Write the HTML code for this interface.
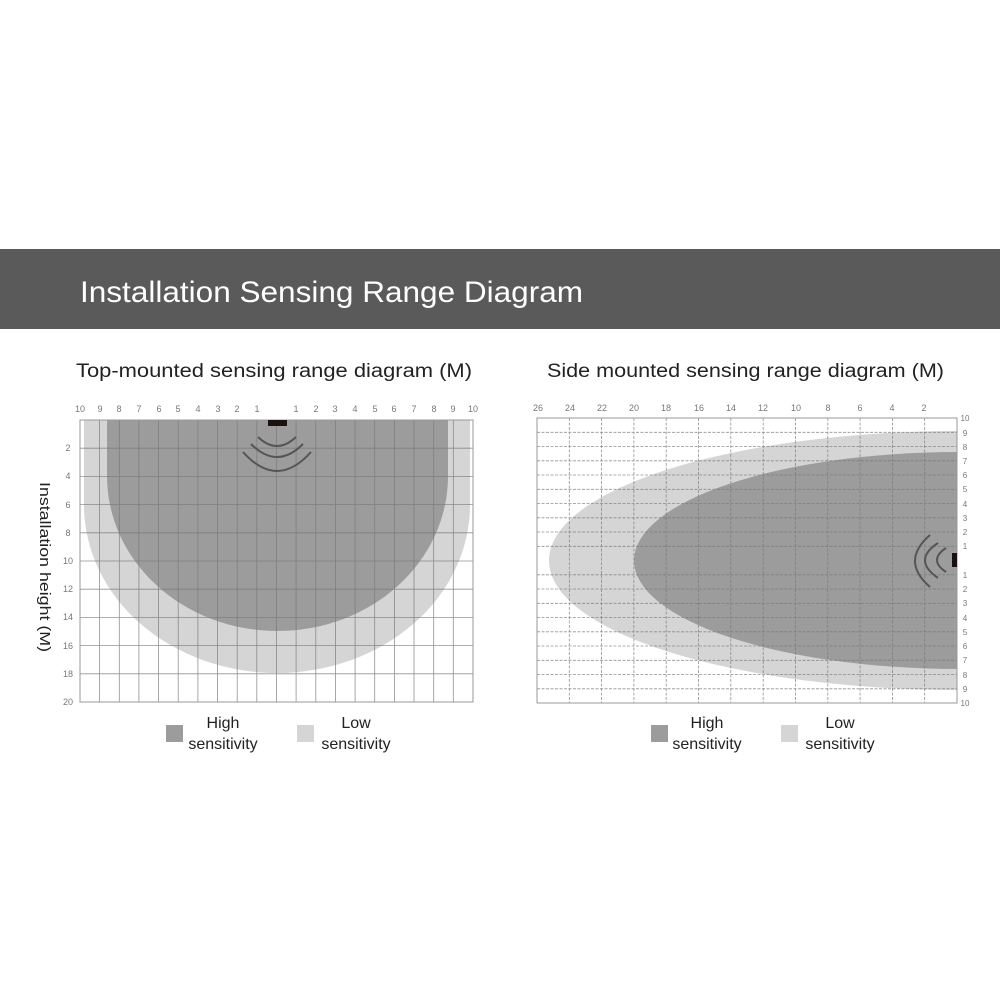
<!DOCTYPE html>
<html><head><meta charset="utf-8"><style>
html,body{margin:0;padding:0;background:#fff;}
svg{display:block;}
</style></head><body>
<svg width="1000" height="1000" viewBox="0 0 1000 1000" xmlns="http://www.w3.org/2000/svg" font-family="Liberation Sans, DejaVu Sans, sans-serif">
<rect x="0" y="0" width="1000" height="1000" fill="#fff"/>
<rect x="0" y="249" width="1000" height="80" fill="#5a5a5a"/>
<text x="80" y="302" font-size="30" fill="#fff" textLength="503" lengthAdjust="spacingAndGlyphs">Installation Sensing Range Diagram</text>
<text x="76" y="377" font-size="19" fill="#222" textLength="396" lengthAdjust="spacingAndGlyphs">Top-mounted sensing range diagram (M)</text>
<text x="547" y="377" font-size="19" fill="#222" textLength="397" lengthAdjust="spacingAndGlyphs">Side mounted sensing range diagram (M)</text>

<!-- LEFT CHART -->
<defs>
<clipPath id="cl"><rect x="80" y="420" width="393" height="282"/></clipPath>
<clipPath id="cr"><rect x="537" y="418" width="420" height="285"/></clipPath>
</defs>
<g clip-path="url(#cl)">
<rect x="84" y="420" width="386" height="85" fill="#d5d5d5"/>
<ellipse cx="277" cy="505" rx="193" ry="168" fill="#d5d5d5"/>
<rect x="107" y="420" width="341" height="56" fill="#9c9c9c"/>
<ellipse cx="277.5" cy="476" rx="170.5" ry="155" fill="#9c9c9c"/>
</g>
<g stroke="#777" stroke-width="0.8" opacity="0.8">
<line x1="99.6" y1="420" x2="99.6" y2="702"/><line x1="119.3" y1="420" x2="119.3" y2="702"/><line x1="138.9" y1="420" x2="138.9" y2="702"/><line x1="158.6" y1="420" x2="158.6" y2="702"/><line x1="178.2" y1="420" x2="178.2" y2="702"/><line x1="197.9" y1="420" x2="197.9" y2="702"/><line x1="217.5" y1="420" x2="217.5" y2="702"/><line x1="237.2" y1="420" x2="237.2" y2="702"/><line x1="256.8" y1="420" x2="256.8" y2="702"/><line x1="276.5" y1="420" x2="276.5" y2="702"/><line x1="296.1" y1="420" x2="296.1" y2="702"/><line x1="315.8" y1="420" x2="315.8" y2="702"/><line x1="335.4" y1="420" x2="335.4" y2="702"/><line x1="355.1" y1="420" x2="355.1" y2="702"/><line x1="374.7" y1="420" x2="374.7" y2="702"/><line x1="394.4" y1="420" x2="394.4" y2="702"/><line x1="414" y1="420" x2="414" y2="702"/><line x1="433.7" y1="420" x2="433.7" y2="702"/><line x1="453.3" y1="420" x2="453.3" y2="702"/>
<line x1="80" y1="448.2" x2="473" y2="448.2"/><line x1="80" y1="476.4" x2="473" y2="476.4"/><line x1="80" y1="504.6" x2="473" y2="504.6"/><line x1="80" y1="532.8" x2="473" y2="532.8"/><line x1="80" y1="561" x2="473" y2="561"/><line x1="80" y1="589.2" x2="473" y2="589.2"/><line x1="80" y1="617.4" x2="473" y2="617.4"/><line x1="80" y1="645.6" x2="473" y2="645.6"/><line x1="80" y1="673.8" x2="473" y2="673.8"/>
</g>
<rect x="80" y="420" width="393" height="282" fill="none" stroke="#999" stroke-width="1"/>
<rect x="268" y="420" width="19" height="6" fill="#1a1010"/>
<g fill="none" stroke="#555" stroke-width="2">
<path d="M258,437 Q277,455 296,437"/><path d="M251,444 Q277,470 303,444"/><path d="M243,452 Q277,490 311,452"/>
</g>
<g font-size="9" fill="#777" text-anchor="middle">
<text x="80" y="412">10</text><text x="100" y="412">9</text><text x="119" y="412">8</text><text x="139" y="412">7</text><text x="159" y="412">6</text><text x="178" y="412">5</text><text x="198" y="412">4</text><text x="218" y="412">3</text><text x="237" y="412">2</text><text x="257" y="412">1</text>
<text x="296" y="412">1</text><text x="316" y="412">2</text><text x="335" y="412">3</text><text x="355" y="412">4</text><text x="375" y="412">5</text><text x="394" y="412">6</text><text x="414" y="412">7</text><text x="434" y="412">8</text><text x="453" y="412">9</text><text x="473" y="412">10</text>
<text x="68" y="451">2</text><text x="68" y="479">4</text><text x="68" y="508">6</text><text x="68" y="536">8</text><text x="68" y="564">10</text><text x="68" y="592">12</text><text x="68" y="620">14</text><text x="68" y="649">16</text><text x="68" y="677">18</text><text x="68" y="705">20</text>
</g>
<text transform="translate(40,482) rotate(90)" font-size="15" fill="#222" textLength="170" lengthAdjust="spacingAndGlyphs">Installation height (M)</text>

<!-- RIGHT CHART -->
<g clip-path="url(#cr)">
<ellipse cx="960" cy="560.5" rx="411" ry="129.5" fill="#d5d5d5"/>
<ellipse cx="960" cy="560.5" rx="326" ry="108.5" fill="#9c9c9c"/>
</g>
<g stroke="#777" stroke-width="0.8" opacity="0.8" stroke-dasharray="3,1.5">
<line x1="569.3" y1="418" x2="569.3" y2="703"/><line x1="601.6" y1="418" x2="601.6" y2="703"/><line x1="633.9" y1="418" x2="633.9" y2="703"/><line x1="666.2" y1="418" x2="666.2" y2="703"/><line x1="698.5" y1="418" x2="698.5" y2="703"/><line x1="730.8" y1="418" x2="730.8" y2="703"/><line x1="763.2" y1="418" x2="763.2" y2="703"/><line x1="795.5" y1="418" x2="795.5" y2="703"/><line x1="827.8" y1="418" x2="827.8" y2="703"/><line x1="860.1" y1="418" x2="860.1" y2="703"/><line x1="892.4" y1="418" x2="892.4" y2="703"/><line x1="924.7" y1="418" x2="924.7" y2="703"/>
<line x1="537" y1="432.3" x2="957" y2="432.3"/><line x1="537" y1="446.5" x2="957" y2="446.5"/><line x1="537" y1="460.8" x2="957" y2="460.8"/><line x1="537" y1="475" x2="957" y2="475"/><line x1="537" y1="489.3" x2="957" y2="489.3"/><line x1="537" y1="503.5" x2="957" y2="503.5"/><line x1="537" y1="517.8" x2="957" y2="517.8"/><line x1="537" y1="532" x2="957" y2="532"/><line x1="537" y1="546.3" x2="957" y2="546.3"/><line x1="537" y1="574.8" x2="957" y2="574.8"/><line x1="537" y1="589" x2="957" y2="589"/><line x1="537" y1="603.3" x2="957" y2="603.3"/><line x1="537" y1="617.5" x2="957" y2="617.5"/><line x1="537" y1="631.8" x2="957" y2="631.8"/><line x1="537" y1="646" x2="957" y2="646"/><line x1="537" y1="660.3" x2="957" y2="660.3"/><line x1="537" y1="674.5" x2="957" y2="674.5"/><line x1="537" y1="688.8" x2="957" y2="688.8"/>
</g>
<rect x="537" y="418" width="420" height="285" fill="none" stroke="#999" stroke-width="1"/>
<rect x="952" y="553" width="5" height="14" fill="#1a1010"/>
<g fill="none" stroke="#555" stroke-width="2">
<path d="M930,535 Q900,561 930,587"/><path d="M938,543 Q912,560 938,578"/><path d="M946,548 Q928,560 946,572"/>
</g>
<g font-size="9" fill="#777" text-anchor="middle">
<text x="538" y="411">26</text><text x="570" y="411">24</text><text x="602" y="411">22</text><text x="634" y="411">20</text><text x="666" y="411">18</text><text x="699" y="411">16</text><text x="731" y="411">14</text><text x="763" y="411">12</text><text x="796" y="411">10</text><text x="828" y="411">8</text><text x="860" y="411">6</text><text x="892" y="411">4</text><text x="924" y="411">2</text>
</g>
<g font-size="8" fill="#777" text-anchor="middle">
<text x="965" y="421">10</text><text x="965" y="436">9</text><text x="965" y="450">8</text><text x="965" y="464">7</text><text x="965" y="478">6</text><text x="965" y="492">5</text><text x="965" y="507">4</text><text x="965" y="521">3</text><text x="965" y="535">2</text><text x="965" y="549">1</text>
<text x="965" y="578">1</text><text x="965" y="592">2</text><text x="965" y="606">3</text><text x="965" y="621">4</text><text x="965" y="635">5</text><text x="965" y="649">6</text><text x="965" y="663">7</text><text x="965" y="678">8</text><text x="965" y="692">9</text><text x="965" y="706">10</text>
</g>

<!-- LEGENDS -->
<g font-size="16" fill="#222" text-anchor="middle">
<rect x="166" y="725" width="17" height="17" fill="#9c9c9c"/>
<text x="223" y="728">High</text><text x="223" y="749">sensitivity</text>
<rect x="297" y="725" width="17" height="17" fill="#d5d5d5"/>
<text x="356" y="728">Low</text><text x="356" y="749">sensitivity</text>
<rect x="651" y="725" width="17" height="17" fill="#9c9c9c"/>
<text x="707" y="728">High</text><text x="707" y="749">sensitivity</text>
<rect x="781" y="725" width="17" height="17" fill="#d5d5d5"/>
<text x="840" y="728">Low</text><text x="840" y="749">sensitivity</text>
</g>
</svg>
</body></html>
